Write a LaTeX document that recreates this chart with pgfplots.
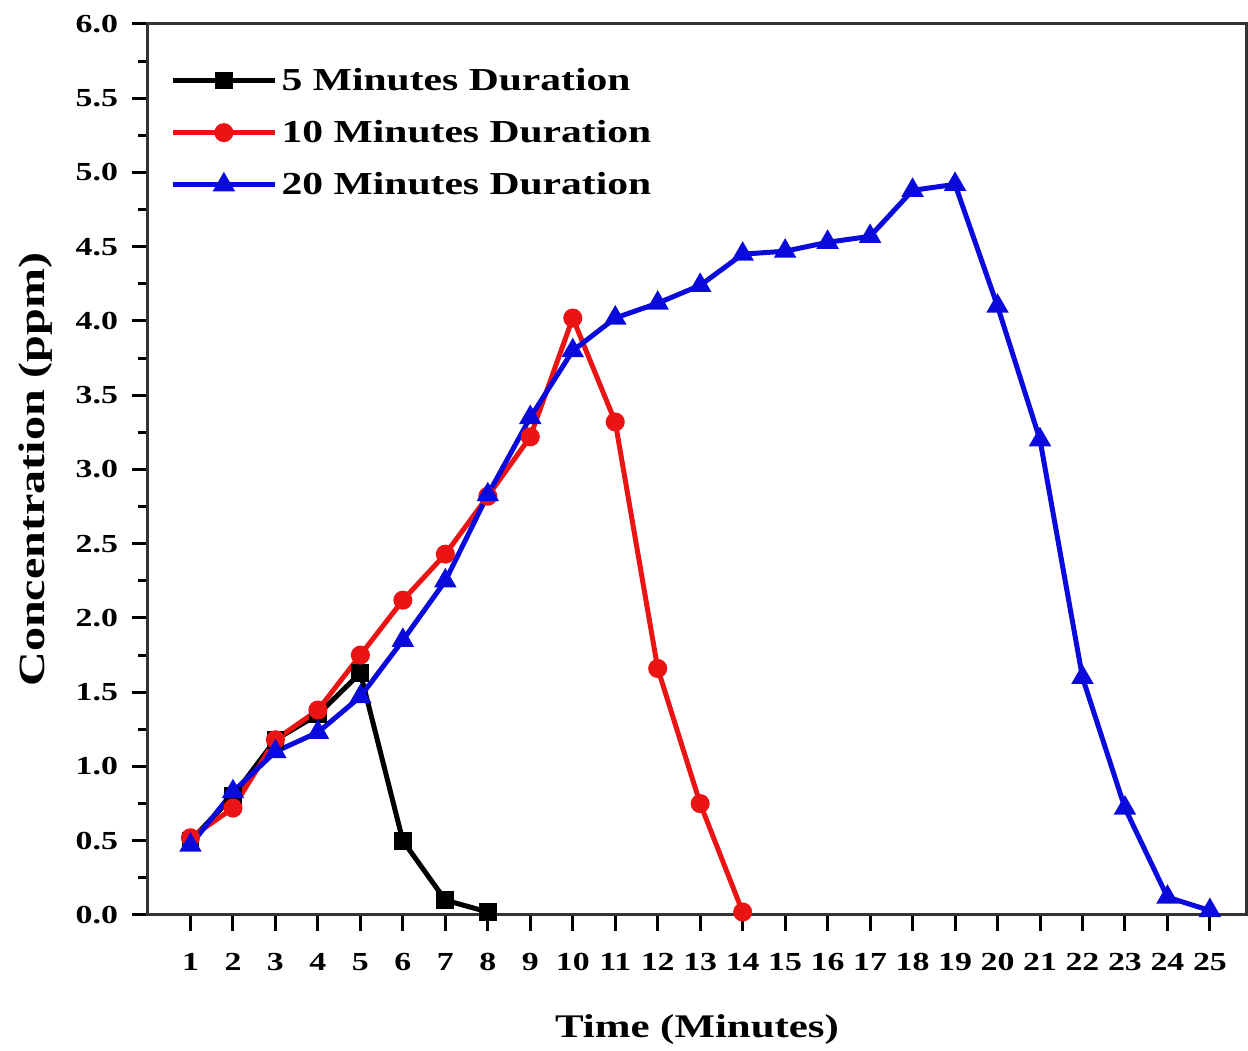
\documentclass[border=0pt]{standalone}
\usepackage{fontspec}
\setmainfont{Liberation Serif}[FakeStretch=1.3]
\usepackage{pgfplots}
\pgfplotsset{compat=1.18}
\definecolor{cblue}{RGB}{10,10,220}
\definecolor{cred}{RGB}{235,20,20}
\begin{document}
\begin{tikzpicture}
\begin{axis}[
  at={(0,0)}, anchor=south west,
  scale only axis,
  width=549pt, height=445.5pt,
  xmin=0, xmax=25.85, ymin=0, ymax=6,
  xtick={1,...,25},
  ytick={0,0.5,...,6},
  minor ytick={0.25,0.75,...,5.75},
  yticklabel style={xshift=-3.5pt,/pgf/number format/.cd,fixed,fixed zerofill,precision=1},
  /pgf/number format/assume math mode=true,
  tick align=outside,
  xtick pos=bottom, ytick pos=left,
  major tick length=8pt, minor tick length=5pt,
  every tick/.style={black, line width=1.5pt},
  axis line style={line width=1.5pt, black!80},
  tick label style={font=\fontsize{13}{15}\selectfont\bfseries},
  xticklabel style={yshift=-7.5pt},
  xlabel={Time (Minutes)},
  ylabel={Concentration (ppm)},
  xlabel style={font=\fontsize{16.5}{19}\selectfont\bfseries, yshift=-15pt},
  ylabel style={font=\fontsize{18.5}{21}\selectfont\bfseries, yshift=5pt},
  legend style={draw=none, fill=none, at={(rel axis cs:0.018,0.958)}, anchor=north west,
     font=\fontsize{16}{19}\selectfont\bfseries, row sep=9.5pt, inner sep=1pt},
  legend cell align=left,
  legend image code/.code={\draw[mark repeat=2,mark phase=2] plot coordinates {(0cm,0cm) (0.9cm,0cm) (1.8cm,0cm)};},
  every axis plot/.append style={line width=2.5pt},
]
\addplot[black, mark=square*, mark size=3.2pt] coordinates {
(1,0.50) (2,0.80) (3,1.18) (4,1.35) (5,1.63) (6,0.50) (7,0.10) (8,0.02)};
\addlegendentry{5 Minutes Duration}
\addplot[cred, mark=*, mark size=3.5pt] coordinates {
(1,0.52) (2,0.72) (3,1.18) (4,1.38) (5,1.75) (6,2.12) (7,2.43) (8,2.82) (9,3.22) (10,4.02) (11,3.32) (12,1.66) (13,0.75) (14,0.02)};
\addlegendentry{10 Minutes Duration}
\addplot[cblue, mark=triangle*, mark size=4pt] coordinates {
(1,0.47) (2,0.83) (3,1.10) (4,1.23) (5,1.47) (6,1.85) (7,2.25) (8,2.83) (9,3.35) (10,3.80) (11,4.02) (12,4.12) (13,4.24) (14,4.45) (15,4.47) (16,4.53) (17,4.57) (18,4.88) (19,4.92) (20,4.10) (21,3.20) (22,1.60) (23,0.72) (24,0.12) (25,0.03)};
\addlegendentry{20 Minutes Duration}
\end{axis}
\useasboundingbox (-74pt,-67pt) rectangle (550pt,457.5pt);
\end{tikzpicture}
\end{document}
